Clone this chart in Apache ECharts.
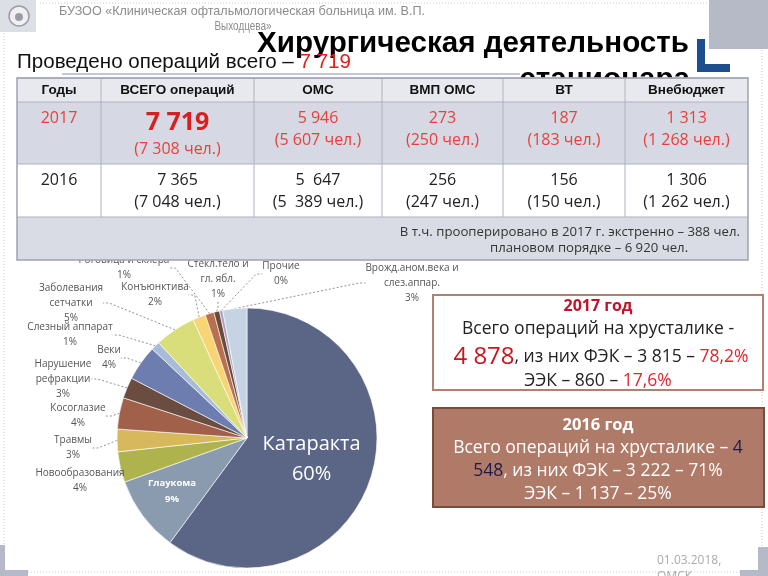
<!DOCTYPE html>
<html><head><meta charset="utf-8">
<script src="https://cdn.jsdelivr.net/npm/echarts@6/dist/echarts.min.js"></script>
<style>html,body{margin:0;padding:0;background:#fff}#c{width:768px;height:576px}</style>
</head><body><div id="c"></div>
<script>
// ---- data ----
const sliceNames = ['Катаракта','Глаукома','Новообразования','Травмы','Косоглазие','Нарушение\nрефракции','Веки','Слезный аппарат','Заболевания\nсетчатки','Конъюнктива','Роговица и склера','Стекл.тело и\nгл. ябл.','Прочие','Врожд.аном.века и\nслез.аппар.'];
const sliceValues = [60.1, 9.4, 3.8, 2.8, 3.9, 2.6, 4.4, 1.1, 5.1, 1.6, 1.1, 0.7, 0.4, 3.0];
const tableHead = ['Годы','ВСЕГО операций','ОМС','ВМП ОМС','ВТ','Внебюджет'];
const row2017Main = ['2017','7 719','5 946','273','187','1 313'];
const row2017Sub = ['','(7 308 чел.)','(5 607 чел.)','(250 чел.)','(183 чел.)','(1 268 чел.)'];
const row2016Main = ['2016','7 365','5  647','256','156','1 306'];
const row2016Sub = ['','(7 048 чел.)','(5  389 чел.)','(247 чел.)','(150 чел.)','(1 262 чел.)'];
const noteLines = ['В т.ч. прооперировано в 2017 г. экстренно – 388 чел.','плановом порядке – 6 920 чел.'];
const totalOps = '7 719';

// ---- styles ----
const sliceColors = ['#5b6585','#8a9bb0','#aeb34e','#d8b85c','#a0604a','#6a4c40','#6e7db0','#a8bcd8','#d9de7a','#f7d474','#b9704e','#6a4a3a','#b0a0c0','#c5d3e2'];
const labelPos = [null,[172,491],[80,481],[73,448],[78,416],[63,379],[109,358],[70,335],[71,303],[155,295],[124,268],[218,279],[281,274],[412,283]];
const colX = [17,101,254,382,503,625,748];
const rowY = [78,102,164,217,260];
const F = '"Open Sans", sans-serif';
const A = '"Liberation Sans", Arial, sans-serif';

const mctx = document.createElement('canvas').getContext('2d');
function fit(text, font, w){ mctx.font = font; return w / mctx.measureText(text).width; }

const chart = echarts.init(document.getElementById('c'), null, {renderer:'canvas'});
const g = [];
function txt(x,y,text,opt){
  g.push(Object.assign({type:'text', x:x, y:y, z:opt.z||20, scaleX:opt.sx||1,
    style:Object.assign({text:text, align:opt.align||'center', verticalAlign:'middle',
      fill:opt.fill||'#222', fontSize:opt.size||14, fontFamily:opt.family||F, fontWeight:opt.weight||'normal'}, opt.style||{})}));
}
function rect(x,y,w,h,fill,stroke,lw,z,dash){
  g.push({type:'rect', z:z||5, shape:{x:x,y:y,width:w,height:h}, style:{fill:fill||'none', stroke:stroke||null, lineWidth:lw||1, lineDash:dash||null}});
}
function line(x1,y1,x2,y2,c,lw,z,dash){
  g.push({type:'line', z:z||5, shape:{x1:x1,y1:y1,x2:x2,y2:y2}, style:{stroke:c, lineWidth:lw||1, lineDash:dash||null}});
}

// slide decoration
line(4,0,4,545,'#c8cad4',1,1,[1,2]);
line(40,3,709,3,'#c8cad4',1,1,[1,2]);
line(762,50,762,548,'#c8cad4',1,1,[1,2]);
line(28,572,740,572,'#c8cad4',1,1,[1,2]);
rect(0,0,36,32,'#dcdfe6',null,1,2);
g.push({type:'circle', z:3, shape:{cx:19,cy:16,r:10}, style:{fill:'#f0f0f0', stroke:'#9a9ca8', lineWidth:1.5}});
g.push({type:'circle', z:3, shape:{cx:19,cy:17,r:4}, style:{fill:'#9a9ca8'}});
rect(709,0,59,49,'#b5bac6',null,1,2);
rect(697,39,8,33,'#1f4e8c',null,1,3);
rect(697,64,33,8,'#1f4e8c',null,1,3);
rect(0,545,5,31,'#b6bac8',null,1,3);
rect(0,570,28,6,'#b6bac8',null,1,3);
rect(758,547,10,29,'#b6bac8',null,1,3);
rect(740,570,28,6,'#b6bac8',null,1,3);

// header texts
const h1 = 'БУЗОО «Клиническая офтальмологическая больница им. В.П.';
txt(59,11,h1,{align:'left', fill:'#8c8c8c', size:13, family:A, sx:fit(h1,'13px '+A,366)});
txt(243,26,'Выходцева»',{fill:'#8c8c8c', size:13, family:A, sx:fit('Выходцева»','13px '+A,57)});
const t1 = 'Хирургическая деятельность';
const ts = fit(t1,'bold 29px '+A,432);
txt(257,44,t1,{align:'left', fill:'#000', size:29, weight:'bold', family:A, sx:ts});
txt(690,80,'стационара',{align:'right', fill:'#000', size:29, weight:'bold', family:A, sx:ts, z:4});
line(62,74,520,74,'#c4c7d2',2,4);
const p1 = 'Проведено операций всего – ';
const s1 = fit(p1+totalOps,'20px '+A,334);
g.push({type:'text', x:17, y:62, z:20, scaleX:s1, style:{text:'{a|'+p1+'}{b|'+totalOps+'}', align:'left', verticalAlign:'middle',
  rich:{a:{fill:'#111', fontSize:20, fontFamily:A}, b:{fill:'#e0201a', fontSize:20, fontFamily:A}}}});

// table
rect(colX[0],rowY[0],colX[6]-colX[0],rowY[1]-rowY[0],'#e8e9ef',null,1,30);
rect(colX[0],rowY[1],colX[6]-colX[0],rowY[2]-rowY[1],'#d6d9e3',null,1,30);
rect(colX[0],rowY[2],colX[6]-colX[0],rowY[3]-rowY[2],'#ffffff',null,1,30);
rect(colX[0],rowY[3],colX[6]-colX[0],rowY[4]-rowY[3],'#d9dce5',null,1,30);
for(let i=0;i<4;i++) line(colX[0],rowY[i],colX[6],rowY[i],'#aeb2c0',1,31);
for(let i=1;i<6;i++) line(colX[i],rowY[0],colX[i],rowY[3],'#aeb2c0',1,31);
rect(colX[0],rowY[0],colX[6]-colX[0],rowY[4]-rowY[0],null,'#9ea3b3',1.5,32);
for(let i=0;i<6;i++){
  const cx=(colX[i]+colX[i+1])/2;
  txt(cx,90,tableHead[i],{size:13.5, weight:'bold', family:A, fill:'#111', z:33});
  if(i===1){
    txt(cx,123,row2017Main[i],{size:25, weight:'bold', fill:'#d81e1e', z:33});
    txt(cx,149,row2017Sub[i],{size:16, fill:'#e8413c', z:33});
  } else {
    txt(cx,118,row2017Main[i],{size:16, fill:'#e8413c', z:33});
    if(row2017Sub[i]) txt(cx,140,row2017Sub[i],{size:16, fill:'#e8413c', z:33});
  }
  txt(cx,180,row2016Main[i],{size:16, fill:'#222', z:33});
  if(row2016Sub[i]) txt(cx,202,row2016Sub[i],{size:16, fill:'#222', z:33});
}
txt(740,232,noteLines[0],{align:'right', size:13.2, fill:'#333', z:33});
txt(490,248,noteLines[1],{align:'left', size:13.2, fill:'#333', z:33});

// box 2017
rect(433,295,330,95,'#ffffff','#b08070',2,10);
txt(598,306,'2017 год',{size:16, weight:'bold', fill:'#c0142a'});
txt(598,329,'Всего операций на хрусталике -',{size:17.5, fill:'#222'});
g.push({type:'text', x:601, y:357, z:20, style:{text:'{r|4 878}{k|, из них ФЭК – 3 815 – }{p|78,2%}', align:'center', verticalAlign:'middle',
  rich:{r:{fill:'#c8161d', fontSize:24, fontFamily:F}, k:{fill:'#222', fontSize:17.5, fontFamily:F}, p:{fill:'#e0262d', fontSize:17.5, fontFamily:F}}}});
g.push({type:'text', x:598, y:381, z:20, style:{text:'{k|ЭЭК – 860 – }{p|17,6%}', align:'center', verticalAlign:'middle',
  rich:{k:{fill:'#222', fontSize:17.5, fontFamily:F}, p:{fill:'#e0262d', fontSize:17.5, fontFamily:F}}}});

// box 2016
rect(433,408,331,99,'#b07a68','#7a4c3e',2,10);
txt(598,425,'2016 год',{size:16.5, weight:'bold', fill:'#ffffff'});
g.push({type:'text', x:598, y:448, z:20, style:{text:'{w|Всего операций на хрусталике – }{n|4}', align:'center', verticalAlign:'middle',
  rich:{w:{fill:'#fff', fontSize:17.5, fontFamily:F}, n:{fill:'#1c1a4c', fontSize:17.5, fontFamily:F}}}});
g.push({type:'text', x:598, y:471, z:20, style:{text:'{n|548}{w|, из них ФЭК – 3 222 – 71%}', align:'center', verticalAlign:'middle',
  rich:{w:{fill:'#fff', fontSize:17.5, fontFamily:F}, n:{fill:'#1c1a4c', fontSize:17.5, fontFamily:F}}}});
txt(598,494,'ЭЭК – 1 137 – 25%',{size:17.5, fill:'#fff'});

// footer
txt(657,561,'01.03.2018,',{align:'left', size:12, fill:'#aaaaaa'});
txt(657,577,'ОМСК',{align:'left', size:12, fill:'#aaaaaa'});

const pieData = sliceNames.map((n,i)=>{
  const d = {name:n, value:sliceValues[i], itemStyle:{color:sliceColors[i]}};
  if(i===0) d.label = {position:'inside', color:'#fff', fontSize:20, lineHeight:30};
  if(i===1) d.label = {position:'inside', color:'#fff', fontSize:9.5, fontWeight:'bold', lineHeight:16};
  if(i<=1) d.labelLine = {show:false};
  return d;
});

chart.setOption({
  animation:false,
  backgroundColor:'#ffffff',
  graphic:{elements:g},
  series:[{
    type:'pie', z:8,
    center:[247,438], radius:130, startAngle:90, clockwise:true,
    avoidLabelOverlap:false,
    itemStyle:{borderColor:'#ffffff', borderWidth:0.6},
    emphasis:{disabled:true},
    label:{show:true, position:'outside', fontFamily:F, fontSize:10, color:'#555', lineHeight:15,
      formatter:p=>p.name+'\n'+Math.round(p.value)+'%'},
    labelLine:{show:true, length:8, length2:6, lineStyle:{color:'#777', width:0.8, type:[2,2]}},
    labelLayout:function(params){
      const p = labelPos[params.dataIndex];
      if(!p) return {};
      return {x:p[0], y:p[1], align:'center', verticalAlign:'middle'};
    },
    data:pieData
  }]
});
</script></body></html>
